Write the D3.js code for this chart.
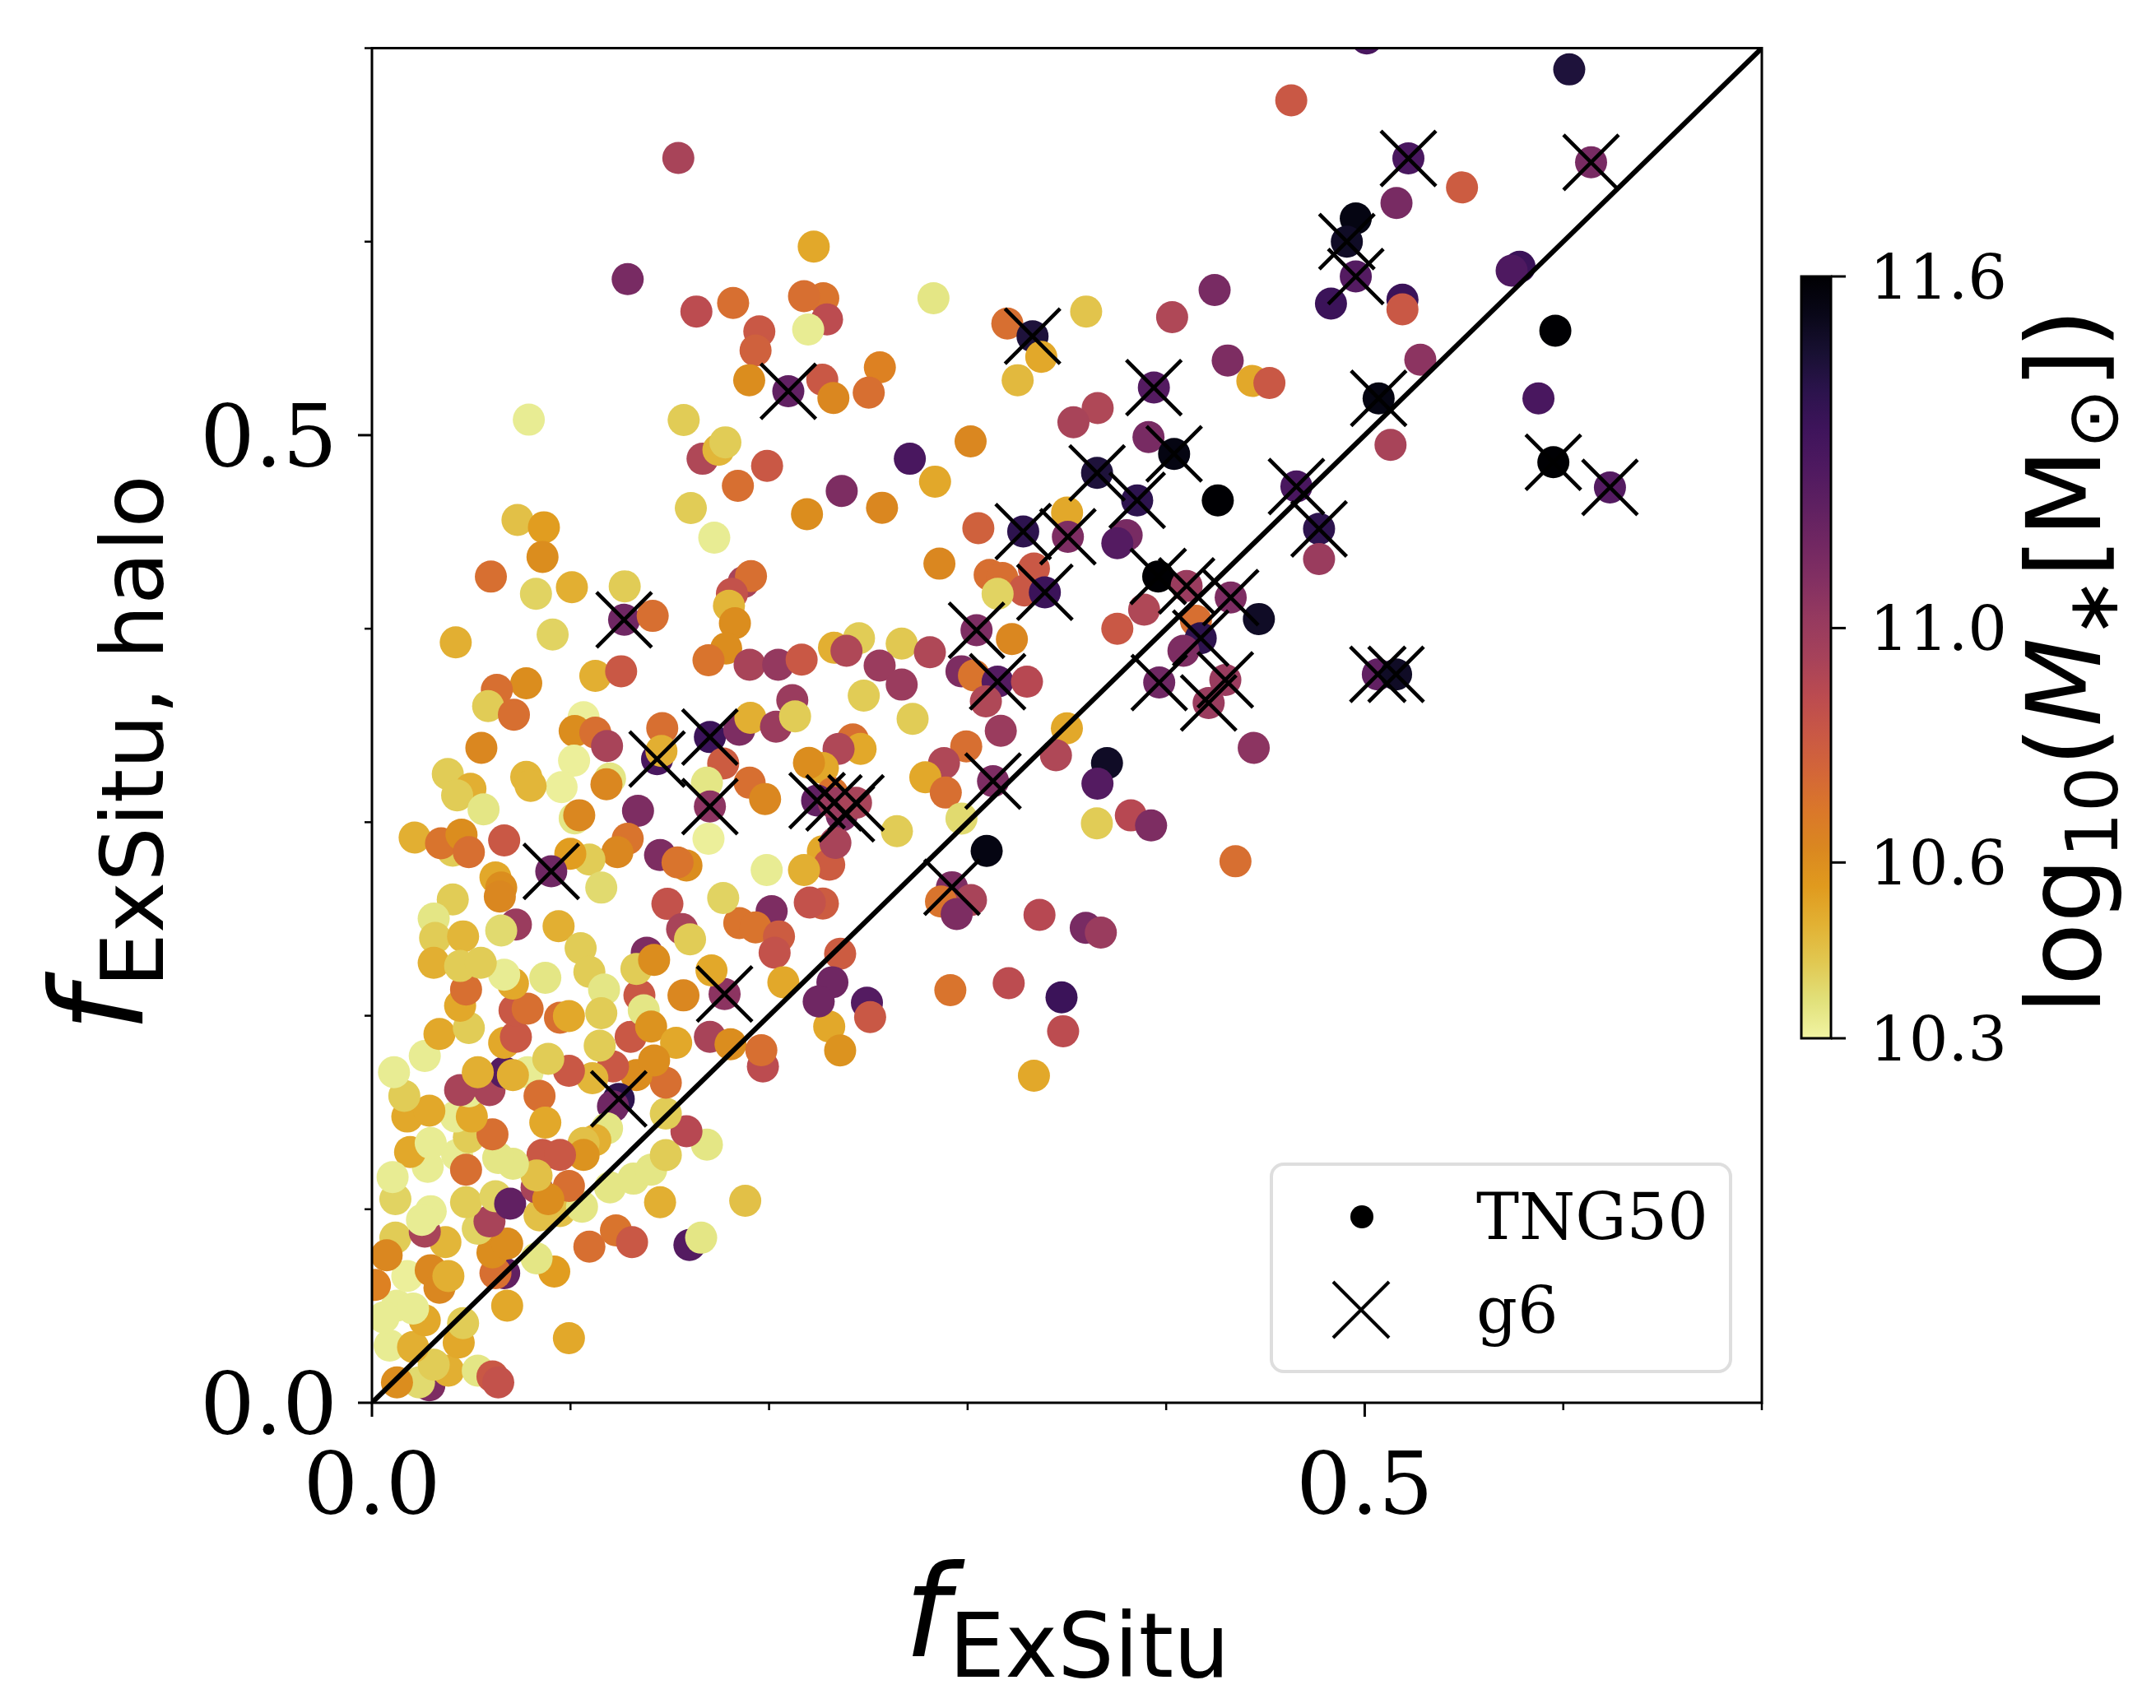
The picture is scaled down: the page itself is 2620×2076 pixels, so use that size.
<!DOCTYPE html>
<html>
<head>
<meta charset="utf-8">
<script src="https://cdn.jsdelivr.net/npm/d3@7"></script>
<style>
body { margin: 0; background: #fff; }
svg { display: block; }
</style>
</head>
<body>
<div id="chart-container"></div>
<script>
// TNG50 galaxies: [fExSitu, fExSitu_halo, log10 M*]
var galaxies = [
  [0.501,0.705,11.3],[0.603,0.689,11.45],[0.463,0.673,10.82],[0.522,0.643,11.3],[0.549,0.628,10.8],
  [0.614,0.641,11.12],[0.516,0.620,11.12],[0.4955,0.612,11.55],[0.491,0.600,11.5],[0.4955,0.582,11.25],
  [0.483,0.568,11.35],[0.519,0.570,11.35],[0.519,0.565,10.82],[0.578,0.587,11.35],[0.574,0.585,11.28],
  [0.596,0.554,11.6],[0.528,0.539,11.05],[0.507,0.519,11.55],[0.5875,0.519,11.3],[0.513,0.495,10.95],
  [0.595,0.486,11.6],[0.6235,0.473,11.25],
  [0.477,0.4516,11.4],[0.477,0.436,11.0],[0.5066,0.3764,11.2],[0.5158,0.3764,11.5],
  [0.2828,0.5708,10.35],[0.320,0.5577,10.72],[0.3327,0.5511,11.45],[0.3371,0.5405,10.52],[0.3252,0.5284,10.47],
  [0.3597,0.5639,10.44],[0.403,0.561,10.92],[0.4244,0.575,11.12],[0.431,0.5386,11.1],[0.4434,0.528,10.52],
  [0.452,0.527,10.82],[0.3938,0.5246,11.25],[0.3655,0.514,10.92],[0.3533,0.5067,10.95],[0.3911,0.499,11.12],
  [0.404,0.4903,11.55],[0.3652,0.4805,11.45],[0.3854,0.4663,11.4],[0.426,0.4663,11.6],[0.4656,0.4735,11.3],
  [0.2558,0.535,10.65],[0.2502,0.522,10.72],[0.3015,0.4968,10.62],[0.2709,0.4878,11.3],[0.2836,0.476,10.52],
  [0.2569,0.4625,10.62],[0.3054,0.4519,10.78],[0.328,0.4502,11.4],[0.3501,0.460,10.52],
  [0.2366,0.4712,11.1],[0.3505,0.4475,11.1],[0.2858,0.4336,10.62],[0.3801,0.4483,11.12],[0.3754,0.4442,11.25],
  [0.396,0.427,11.6],[0.4103,0.4221,11.0],[0.3889,0.4098,10.92],[0.4325,0.4161,11.1],[0.4467,0.405,11.5],
  [0.3754,0.400,10.82],[0.415,0.4041,10.72],[0.4174,0.3951,11.4],[0.4087,0.3886,11.1],[0.3111,0.4278,10.72],
  [0.3175,0.4262,10.72],[0.3334,0.4311,10.82],[0.3286,0.4197,10.82],[0.3151,0.418,10.4],[0.3389,0.4188,11.35],
  [0.3045,0.3992,11.1],[0.3223,0.3946,10.62],[0.2453,0.3951,10.42],[0.2327,0.3902,10.5],[0.239,0.3886,10.92],
  [0.2668,0.3923,10.43],[0.281,0.3878,10.92],[0.2557,0.3809,11.0],[0.2668,0.3711,11.0],[0.2477,0.3654,10.42],
  [0.2723,0.3534,10.42],[0.2969,0.378,11.1],[0.3032,0.3758,10.7],[0.3151,0.3726,11.25],[0.3299,0.3726,10.9],
  [0.3092,0.3624,10.92],[0.3167,0.3472,11.0],[0.3965,0.3722,11.15],[0.4298,0.3735,11.0],[0.4214,0.3616,11.0],
  [0.4441,0.3384,11.05],[0.35,0.3485,10.52],[0.3445,0.3346,10.92],[0.3702,0.3305,11.5],[0.3654,0.3199,11.25],
  [0.3651,0.2994,10.42],[0.3822,0.3035,10.9],[0.3924,0.2983,11.1],[0.4349,0.2798,10.72],[0.3096,0.2852,11.55],
  [0.2993,0.3392,10.72],[0.2881,0.3305,10.92],[0.2787,0.3232,10.52],[0.289,0.3153,10.72],[0.3128,0.3212,11.1],
  [0.2969,0.3019,10.38],[0.2644,0.2954,10.42],[0.2422,0.3428,10.72],[0.2461,0.3379,10.52],[0.235,0.3379,10.92],
  [0.2271,0.328,10.52],[0.2319,0.315,10.7],[0.2366,0.3035,11.1],[0.2242,0.3112,11.2],[0.2327,0.310,11.0],
  [0.2438,0.310,10.95],
  [0.2921,0.2664,11.1],[0.3017,0.2598,10.95],[0.2866,0.259,10.7],[0.2945,0.2525,11.1],[0.3362,0.2521,10.9],
  [0.3595,0.2454,11.12],[0.3671,0.243,11.0],[0.2358,0.232,10.8],[0.2319,0.2173,11.15],[0.2493,0.2067,11.25],
  [0.2509,0.1993,10.82],[0.2303,0.1944,10.52],[0.2358,0.1821,10.58],[0.2913,0.2132,10.7],[0.3207,0.2168,10.88],
  [0.3473,0.2095,11.35],[0.3481,0.192,10.88],[0.3334,0.169,10.52],[0.2271,0.285,10.52],[0.2303,0.278,10.8],
  [0.2334,0.2893,10.95],[0.2271,0.258,10.8],
  [0.1543,0.6432,10.95],[0.1288,0.5806,11.12],[0.1634,0.5639,10.88],[0.1819,0.5683,10.72],[0.2225,0.5974,10.52],
  [0.2273,0.5708,10.7],[0.2176,0.5718,10.72],[0.2292,0.5598,10.88],[0.2197,0.5546,10.33],[0.1951,0.5536,10.82],
  [0.1932,0.5438,10.78],[0.19,0.5284,10.6],[0.2097,0.5227,11.2],[0.2268,0.5287,10.82],[0.2324,0.5192,10.62],
  [0.079,0.508,10.33],[0.157,0.5078,10.42],[0.1665,0.4878,10.92],[0.1745,0.4924,10.48],[0.178,0.4963,10.42],
  [0.199,0.4841,10.82],[0.1843,0.4738,10.72],
  [0.0733,0.4562,10.45],[0.0866,0.4524,10.55],[0.0859,0.4371,10.6],[0.0599,0.4269,10.72],[0.0826,0.418,10.4],
  [0.1007,0.4214,10.5],[0.1273,0.4219,10.42],[0.127,0.4046,11.15],[0.1414,0.4066,10.72],[0.091,0.397,10.4],
  [0.0422,0.3929,10.5],[0.1125,0.3756,10.5],[0.1255,0.378,10.82],[0.0777,0.3718,10.6],[0.0629,0.3684,10.72],
  [0.0585,0.36,10.42],[0.0715,0.3555,10.72],[0.0551,0.3384,10.62],[0.1066,0.3542,10.32],[0.1021,0.3471,10.6],
  [0.1125,0.3463,10.72],[0.1184,0.3394,10.95],[0.1018,0.3318,10.32],[0.1199,0.3226,10.35],[0.1181,0.3196,10.62],
  [0.0955,0.3181,10.32],[0.0777,0.3234,10.48],[0.0799,0.3188,10.48],[0.0382,0.3249,10.42],[0.0496,0.3173,10.5],
  [0.0429,0.3139,10.42],[0.0562,0.3066,10.35],[0.1021,0.302,10.35],[0.1044,0.3036,10.62],[0.134,0.3059,11.1],
  [0.1462,0.3486,10.72],[0.1436,0.3326,11.3],[0.1458,0.3368,10.5],[0.1702,0.344,11.35],[0.185,0.3478,11.1],
  [0.1906,0.3539,10.5],[0.2035,0.3494,11.0],[0.2117,0.3631,11.0],[0.2131,0.3547,10.42],[0.1769,0.3303,10.8],
  [0.1687,0.3204,10.35],[0.1702,0.3081,11.05],[0.1902,0.3204,10.72],[0.198,0.312,10.62],[0.2201,0.3307,10.6],
  [0.1695,0.2914,10.32],[0.1988,0.2753,10.33],[0.2176,0.2753,10.5],[0.2205,0.2585,10.85],[0.2013,0.254,11.1],
  [0.185,0.2479,10.7],[0.1932,0.2456,10.7],[0.205,0.241,10.8],[0.2028,0.2326,10.85],[0.1769,0.2608,10.4],
  [0.1488,0.2578,10.85],[0.1562,0.2448,10.95],[0.1602,0.2395,10.42],[0.1384,0.2326,11.1],[0.1451,0.283,11.1],
  [0.1584,0.2776,10.6],[0.1539,0.2792,10.7],[0.1288,0.2914,10.7],[0.1236,0.2845,10.62],[0.1095,0.2807,10.42],
  [0.1155,0.2662,10.38],[0.0999,0.2837,10.55],[0.0903,0.2746,11.15],[0.0666,0.2906,10.82],[0.0215,0.2921,10.5],
  [0.0407,0.2853,10.42],[0.0348,0.2891,10.7],[0.0451,0.2936,10.6],[0.0488,0.2845,10.72],[0.0622,0.2715,10.52],
  [0.0651,0.2662,10.6],[0.0644,0.2616,10.62],[0.0407,0.2601,10.42],[0.0311,0.2502,10.35],[0.0725,0.2471,11.0],
  [0.0651,0.244,10.38],[0.094,0.2463,10.5],[0.1051,0.2349,10.42],[0.0318,0.2402,10.42],[0.0459,0.241,10.48],
  [0.1606,0.4623,10.42],[0.1724,0.447,10.33],[0.2191,0.4592,10.6],[0.1872,0.4241,10.95],[0.1909,0.4272,10.72],
  [0.1813,0.418,10.85],[0.1798,0.4119,10.48],[0.1828,0.4028,10.6],[0.1784,0.3898,10.6],[0.1695,0.3837,10.7],
  [0.1902,0.3814,10.95],[0.2046,0.3814,11.02],[0.2164,0.384,10.82],
  [0.0289,0.009,11.1],[0.0237,0.0105,10.38],[0.0126,0.0105,10.6],[0.0385,0.0166,10.5],[0.0311,0.0197,10.42],
  [0.0533,0.0166,10.35],[0.0607,0.0136,10.82],[0.0636,0.0105,10.85],[0.0089,0.0296,10.33],[0.0207,0.0288,10.5],
  [0.0437,0.0311,10.52],[0.0459,0.0411,10.42],[0.0266,0.0426,10.52],[0.0126,0.0502,10.33],[0.0207,0.0487,10.33],
  [0.0059,0.0441,10.33],[0.0015,0.0609,10.65],[0.0178,0.0655,10.32],[0.0296,0.0685,10.62],[0.034,0.0594,10.62],
  [0.0385,0.0655,10.5],[0.0681,0.0502,10.52],[0.0992,0.0334,10.52],[0.0918,0.0678,10.55],[0.0829,0.0746,10.35],
  [0.0666,0.067,11.2],[0.0622,0.067,10.72],[0.0607,0.0777,10.6],[0.0681,0.0823,10.6],[0.0118,0.0853,10.42],
  [0.0074,0.0762,10.62],[0.037,0.083,10.48],[0.0533,0.0899,10.4],[0.0592,0.0937,10.95],[0.0474,0.1036,10.42],
  [0.0622,0.1067,10.4],[0.0696,0.1029,11.2],[0.0266,0.0884,10.95],[0.0296,0.099,10.33],[0.0118,0.1052,10.4],
  [0.0252,0.0945,10.33],[0.0844,0.0968,10.45],[0.0947,0.0991,10.45],[0.1058,0.1013,10.35],[0.0992,0.112,10.72],
  [0.0829,0.1113,10.95],[0.0888,0.1052,10.6],[0.1199,0.1113,10.35],[0.1317,0.1158,10.35],[0.1406,0.1204,10.35],
  [0.1451,0.1036,10.5],[0.188,0.1044,10.45],[0.1095,0.0807,10.72],[0.1229,0.0891,10.7],[0.131,0.083,10.82],
  [0.1599,0.0815,11.25],[0.1658,0.0853,10.35],[0.148,0.128,10.42],[0.1687,0.1334,10.35],[0.1584,0.1403,10.9],
  [0.148,0.1494,10.42],[0.148,0.1654,10.72],[0.1332,0.1693,10.6],[0.1214,0.1738,10.82],[0.111,0.1677,10.48],
  [0.1243,0.157,11.4],[0.1214,0.1532,11.15],[0.1184,0.1418,10.35],[0.1125,0.1357,10.5],[0.1066,0.1342,10.45],
  [0.1066,0.1281,10.58],[0.0859,0.1281,10.82],[0.0947,0.1281,10.82],[0.0829,0.1174,10.45],[0.071,0.1235,10.35],
  [0.0636,0.1265,10.35],[0.0429,0.1281,10.33],[0.0281,0.1219,10.33],[0.0192,0.1296,10.52],[0.0104,0.1166,10.33],
  [0.0474,0.1204,10.72],[0.0296,0.1342,10.33],[0.0488,0.1372,10.42],[0.0607,0.1387,10.72],[0.0422,0.1479,10.33],
  [0.0178,0.1479,10.52],[0.0289,0.1509,10.52],[0.0503,0.1479,10.52],[0.0488,0.1609,10.33],[0.0592,0.1616,10.95],
  [0.0444,0.1616,10.95],[0.0666,0.1708,11.25],[0.0533,0.1708,10.5],[0.0784,0.1708,10.33],[0.071,0.1693,10.5],
  [0.0844,0.1586,10.72],[0.0873,0.1448,10.52],[0.0992,0.1715,10.82],[0.0888,0.1777,10.42],[0.0163,0.1586,10.42],
  [0.0111,0.1708,10.33],[0.0266,0.1792,10.33],[0.034,0.1906,10.52],[0.0488,0.1937,10.42],[0.0444,0.2051,10.52],
  [0.0474,0.2135,10.72],[0.0666,0.186,10.52],[0.0725,0.1891,10.82],[0.0718,0.2028,10.82],[0.0784,0.2036,10.72],
  [0.071,0.2166,10.52],[0.0666,0.2212,10.33],[0.0873,0.2196,10.35],[0.0947,0.199,10.72],[0.0992,0.1998,10.52],
  [0.1095,0.2227,10.42],[0.1169,0.2135,10.35],[0.1155,0.2013,10.42],[0.1147,0.1845,10.42],[0.1303,0.1891,10.82],
  [0.1347,0.2105,10.82],[0.1369,0.2028,10.35],[0.1406,0.1944,10.58],[0.1532,0.186,10.52],[0.1421,0.1769,10.6],
  [0.1569,0.2105,10.62],[0.1702,0.1891,10.95],[0.1806,0.1853,10.6],[0.1776,0.2112,11.05],[0.171,0.2234,10.52],
  [0.1969,0.1738,10.88],[0.1961,0.1822,10.72],[0.2072,0.2173,10.52],[0.225,0.2074,11.15],[0.1332,0.2242,10.42],
  [0.1421,0.2288,10.6],[0.0311,0.2273,10.5],[0.0444,0.2257,10.42],[0.0548,0.2273,10.42]
];

// galaxies matched in the g6 sample: [fExSitu, fExSitu_halo]
var g6 = [
  [0.522,0.643],[0.614,0.641],[0.491,0.600],[0.4955,0.582],[0.507,0.519],[0.595,0.486],[0.6235,0.473],
  [0.477,0.4516],[0.5066,0.3764],[0.5158,0.3764],
  [0.3327,0.5511],[0.3938,0.5246],[0.404,0.4903],[0.3652,0.4805],[0.3854,0.4663],[0.4656,0.4735],[0.328,0.4502],
  [0.3505,0.4475],[0.396,0.427],[0.4103,0.4221],[0.4325,0.4161],[0.4174,0.3951],[0.3389,0.4188],[0.3045,0.3992],
  [0.3151,0.3726],[0.3965,0.3722],[0.4298,0.3735],[0.4214,0.3616],[0.3128,0.3212],
  [0.2242,0.3112],[0.2327,0.310],[0.239,0.3043],[0.2438,0.310],
  [0.2921,0.2664],[0.2097,0.5227],
  [0.127,0.4046],[0.1436,0.3326],[0.1702,0.344],[0.1702,0.3081],[0.0903,0.2746],
  [0.1243,0.157],[0.1776,0.2112]
];

var majorTicks = [0, 0.5];
var minorTicks = [0.1, 0.2, 0.3, 0.4, 0.6, 0.7];
var cbarTicks = [10.3, 10.6, 11.0, 11.6];
var legendLabels = ["TNG50", "g6"];

var W = 2620, H = 2076;
var plot = {left: 452, right: 2141, top: 58.5, bottom: 1705};
var serif = "'DejaVu Serif', serif";
var sans = "'DejaVu Sans', sans-serif";

var svg = d3.select("#chart-container")
    .append("svg")
    .attr("width", W)
    .attr("height", H);

var x = d3.scaleLinear().domain([0, 0.7]).range([plot.left, plot.right]);
var y = d3.scaleLinear().domain([0, 0.7]).range([plot.bottom, plot.top]);

// reversed inferno, a bit muted like the original export
var mass = d3.scaleLinear().domain([10.3, 11.6]).range([1, 0]).clamp(true);
function color(m) {
    var c = d3.hsl(d3.interpolateInferno(mass(m)));
    c.s *= 0.78;
    c.l *= 0.97;
    return c.formatHex();
}

svg.append("clipPath").attr("id", "plot-clip")
    .append("rect")
    .attr("x", plot.left).attr("y", plot.top)
    .attr("width", plot.right - plot.left)
    .attr("height", plot.bottom - plot.top);

var inner = svg.append("g").attr("clip-path", "url(#plot-clip)");

// scatter of galaxies
inner.selectAll("circle.gal")
    .data(galaxies)
    .enter().append("circle")
    .attr("class", "gal")
    .attr("cx", function (d) { return x(d[0]); })
    .attr("cy", function (d) { return y(d[1]); })
    .attr("r", 19.5)
    .style("fill", function (d) { return color(d[2]); });

// one-to-one line
inner.append("line")
    .attr("x1", x(0)).attr("y1", y(0))
    .attr("x2", x(0.7)).attr("y2", y(0.7))
    .style("stroke", "#000")
    .style("stroke-width", 6);

// g6 crosses
function cross(g, cx, cy, s, w) {
    g.append("path")
        .attr("d", "M" + (cx - s) + "," + (cy - s) + "L" + (cx + s) + "," + (cy + s) +
                   "M" + (cx - s) + "," + (cy + s) + "L" + (cx + s) + "," + (cy - s))
        .style("stroke", "#000")
        .style("stroke-width", w)
        .style("fill", "none");
}
g6.forEach(function (d) {
    cross(inner, x(d[0]), y(d[1]), 33.5, 4.6);
});

// frame
svg.append("rect")
    .attr("x", plot.left).attr("y", plot.top)
    .attr("width", plot.right - plot.left)
    .attr("height", plot.bottom - plot.top)
    .style("fill", "none")
    .style("stroke", "#000")
    .style("stroke-width", 3);

// ticks
var axisG = svg.append("g").style("stroke", "#000");
majorTicks.forEach(function (t) {
    axisG.append("line").attr("x1", x(t)).attr("x2", x(t))
        .attr("y1", plot.bottom).attr("y2", plot.bottom + 17).style("stroke-width", 3);
    axisG.append("line").attr("y1", y(t)).attr("y2", y(t))
        .attr("x1", plot.left).attr("x2", plot.left - 17).style("stroke-width", 3);
});
minorTicks.forEach(function (t) {
    axisG.append("line").attr("x1", x(t)).attr("x2", x(t))
        .attr("y1", plot.bottom).attr("y2", plot.bottom + 9).style("stroke-width", 2.5);
    axisG.append("line").attr("y1", y(t)).attr("y2", y(t))
        .attr("x1", plot.left).attr("x2", plot.left - 9).style("stroke-width", 2.5);
});

svg.selectAll("text.xtick")
    .data(majorTicks)
    .enter().append("text")
    .attr("class", "xtick")
    .attr("x", function (d) { return x(d); })
    .attr("y", 1840)
    .attr("text-anchor", "middle")
    .style("font-family", serif)
    .style("font-size", "105px")
    .text(function (d) { return d.toFixed(1); });

svg.selectAll("text.ytick")
    .data(majorTicks)
    .enter().append("text")
    .attr("class", "ytick")
    .attr("x", 410)
    .attr("y", function (d) { return y(d) + 38; })
    .attr("text-anchor", "end")
    .style("font-family", serif)
    .style("font-size", "105px")
    .text(function (d) { return d.toFixed(1); });

// axis labels
var xl = svg.append("text")
    .attr("x", (plot.left + plot.right) / 2)
    .attr("y", 2013)
    .attr("text-anchor", "middle")
    .style("font-family", sans);
xl.append("tspan").style("font-style", "italic").style("font-size", "155px").text("f");
xl.append("tspan").attr("dy", 25).style("font-size", "108px").text("ExSitu");

var yl = svg.append("text")
    .attr("transform", "translate(173,916) rotate(-90)")
    .attr("text-anchor", "middle")
    .style("font-family", sans);
yl.append("tspan").style("font-style", "italic").style("font-size", "155px").text("f");
yl.append("tspan").attr("dy", 25).style("font-size", "105px").text("ExSitu, halo");

// legend
var leg = svg.append("g");
leg.append("rect")
    .attr("x", 1545).attr("y", 1415)
    .attr("width", 558).attr("height", 252)
    .attr("rx", 15)
    .style("fill", "#fff").style("fill-opacity", 0.8)
    .style("stroke", "#dedede").style("stroke-width", 4);
leg.append("circle").attr("cx", 1655).attr("cy", 1479).attr("r", 14).style("fill", "#000");
cross(leg, 1654, 1592, 34, 4);
leg.selectAll("text")
    .data(legendLabels)
    .enter().append("text")
    .attr("x", 1794)
    .attr("y", function (d, i) { return 1506 + i * 114; })
    .style("font-family", serif)
    .style("font-size", "78px")
    .text(function (d) { return d; });

// colorbar
var cb = {x: 2189, w: 36, top: 336, bottom: 1262};
var cy = d3.scaleLinear().domain([10.3, 11.6]).range([cb.bottom, cb.top]);
var grad = svg.append("defs").append("linearGradient")
    .attr("id", "cbar-grad")
    .attr("x1", 0).attr("y1", 1).attr("x2", 0).attr("y2", 0);
d3.range(0, 1.0001, 0.05).forEach(function (t) {
    grad.append("stop")
        .attr("offset", t)
        .attr("stop-color", color(10.3 + t * 1.3));
});
svg.append("rect")
    .attr("x", cb.x).attr("y", cb.top)
    .attr("width", cb.w).attr("height", cb.bottom - cb.top)
    .style("fill", "url(#cbar-grad)")
    .style("stroke", "#000").style("stroke-width", 3);

cbarTicks.forEach(function (t) {
    svg.append("line")
        .attr("x1", cb.x + cb.w).attr("x2", cb.x + cb.w + 18)
        .attr("y1", cy(t)).attr("y2", cy(t))
        .style("stroke", "#000").style("stroke-width", 3);
});
svg.selectAll("text.ctick")
    .data(cbarTicks)
    .enter().append("text")
    .attr("class", "ctick")
    .attr("x", 2272)
    .attr("y", function (d) { return cy(d) + 27; })
    .style("font-family", serif)
    .style("font-size", "75px")
    .text(function (d) { return d.toFixed(1); });

var cl = svg.append("text")
    .attr("transform", "translate(2552,804) rotate(-90)")
    .attr("text-anchor", "middle")
    .style("font-family", sans)
    .style("font-size", "125px");
cl.append("tspan").text("log");
cl.append("tspan").attr("dy", 21).style("font-size", "87px").text("10");
cl.append("tspan").attr("dy", -21).text("(");
cl.append("tspan").style("font-style", "italic").text("M");
cl.append("tspan").attr("dy", 21).style("font-size", "87px").text("\u2217");
cl.append("tspan").attr("dy", -21).text("[M");
cl.append("tspan").attr("dy", 21).style("font-size", "87px").text("\u2299");
cl.append("tspan").attr("dy", -21).text("])");
</script>
</body>
</html>
